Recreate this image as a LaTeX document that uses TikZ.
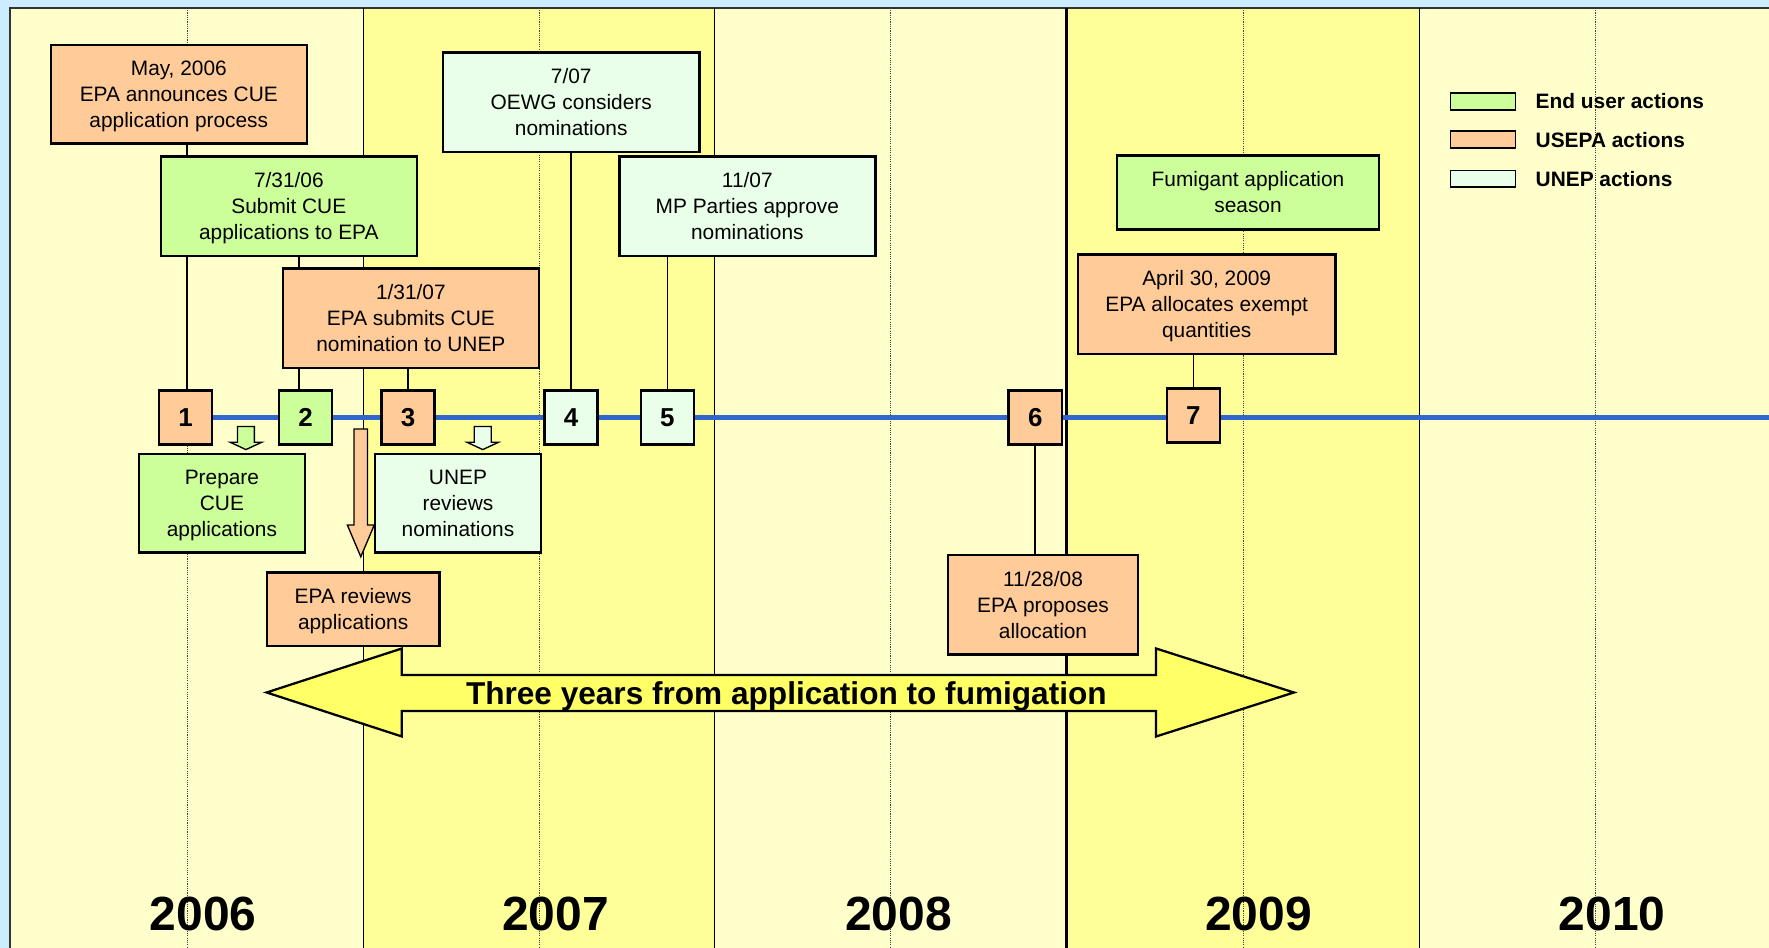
\documentclass[tikz,border=0pt]{standalone}
\usepackage{fontspec}
\setmainfont{Liberation Sans}
\usetikzlibrary{positioning}
\pgfdeclarelayer{background}
\pgfdeclarelayer{links}
\pgfsetlayers{background,links,main}
\definecolor{usepa}{HTML}{FFCC99}
\definecolor{enduser}{HTML}{CCFF99}
\definecolor{unep}{HTML}{EAFFEA}
\definecolor{paleyr}{HTML}{FFFFCC}
\definecolor{deepyr}{HTML}{FFFF99}
\definecolor{frameblue}{HTML}{CCECFF}
\definecolor{lineblue}{HTML}{3366CC}
\definecolor{banner}{HTML}{FFFF66}
\tikzset{
  evbox/.style={draw, line width=2.2pt, align=center, inner sep=0pt, text depth=0pt, font=\fontsize{18.5}{23}\selectfont},
  numbox/.style={draw, line width=2.2pt, minimum width=47pt, minimum height=48pt, inner sep=0pt, font=\fontsize{23}{23}\selectfont\bfseries},
  link/.style={line width=1.6pt},
  timeline/.style={line width=4.2pt, lineblue},
  yearlbl/.style={inner sep=0pt, font=\fontsize{42.5}{42.5}\selectfont\bfseries},
  legsw/.style={draw, line width=1.5pt, minimum width=57.5pt, minimum height=14.8pt, inner sep=0pt},
  legtxt/.style={inner sep=0pt, font=\fontsize{18.5}{20}\selectfont\bfseries},
  hollow/.style={draw, line width=1.2pt, line join=miter}
}
\newcommand{\smalldown}[2]{%
  \draw[hollow, fill=#2] (#1-7.5,378) -- (#1+7.5,378) -- (#1+7.5,392) -- (#1+14,392)
    -- (#1,398.5) -- (#1-14,392) -- (#1-7.5,392) -- cycle;}
\begin{document}
\begin{tikzpicture}[x=1pt,y=-1pt]
\useasboundingbox (0,0) rectangle (1568,840);
\begin{pgfonlayer}{background}
\fill[frameblue] (0,0) rectangle (1568,840);
\fill[paleyr] (9,7) rectangle (322,840);
\fill[deepyr] (322,7) rectangle (633,840);
\fill[paleyr] (633,7) rectangle (945,840);
\fill[deepyr] (945,7) rectangle (1258,840);
\fill[paleyr] (1258,7) rectangle (1568,840);
\draw[line width=1.5pt, black!80] (9,840) -- (9,7) -- (1568,7);
\foreach \x in {166,478,789,1102,1414}
  \draw[densely dotted, line width=1pt, black!75] (\x,7) -- (\x,840);
\foreach \x in {322,633,1258}
  \draw[line width=1.1pt] (\x,7) -- (\x,840);
\draw[line width=2.4pt] (945,7) -- (945,840);
\end{pgfonlayer}
% event boxes
\node[evbox, fill=usepa, minimum width=227pt, minimum height=87pt] (may) at (158.5,83.5) {May, 2006\\EPA announces CUE\\application process};
\node[evbox, fill=enduser, minimum width=227pt, minimum height=88pt] (submit) at (256,182.8) {7/31/06\\Submit CUE\\applications to EPA};
\node[evbox, fill=usepa, minimum width=227pt, minimum height=88pt] (nominate) at (364.2,282.1) {1/31/07\\EPA submits CUE\\nomination to UNEP};
\node[evbox, fill=unep, minimum width=227pt, minimum height=88pt] (oewg) at (506.3,90.5) {7/07\\OEWG considers\\nominations};
\node[evbox, fill=unep, minimum width=227pt, minimum height=88pt] (parties) at (662.4,182.8) {11/07\\MP Parties approve\\nominations};
\node[evbox, fill=enduser, minimum width=232pt, minimum height=65.6pt] (season) at (1106.2,170.5) {Fumigant application\\season};
\node[evbox, fill=usepa, minimum width=228pt, minimum height=88pt] (allocate) at (1069.6,269.7) {April 30, 2009\\EPA allocates exempt\\quantities};
\node[evbox, fill=usepa, minimum width=168pt, minimum height=88pt] (propose) at (924.5,536) {11/28/08\\EPA proposes\\allocation};
\node[evbox, fill=enduser, minimum width=147pt, minimum height=87.4pt] (prepare) at (196.7,445.9) {Prepare\\CUE\\applications};
\node[evbox, fill=unep, minimum width=147pt, minimum height=87.4pt] (unrev) at (405.9,445.9) {UNEP\\reviews\\nominations};
\node[evbox, fill=usepa, minimum width=152.7pt, minimum height=65pt] (eparev) at (313,539.9) {EPA reviews\\applications};
% numbered steps
\node[numbox, fill=usepa] (n1) at (164.6,370) {1};
\node[numbox, fill=enduser] (n2) at (270.9,370) {2};
\node[numbox, fill=usepa] (n3) at (361.7,370) {3};
\node[numbox, fill=unep] (n4) at (506.1,370) {4};
\node[numbox, fill=unep] (n5) at (591.6,370) {5};
\node[numbox, fill=usepa] (n6) at (917.6,370) {6};
\node[numbox, fill=usepa] (n7) at (1057.8,368.4) {7};
\coordinate (tlend) at (1568,370);
\begin{pgfonlayer}{links}
\draw[link] ([xshift=1.4pt]n1.north) -- ([xshift=1.4pt]n1.north |- may.south);
\draw[link] ([xshift=-6pt]n2.north) -- ([xshift=-6pt]n2.north |- submit.south);
\draw[link] (n3.north) -- (n3.north |- nominate.south);
\draw[link] (n4.north) -- (n4.north |- oewg.south);
\draw[link] (n5.north) -- (n5.north |- parties.south);
\draw[link] (n6.south) -- (n6.south |- propose.north);
\draw[link] (n7.north) -- (n7.north |- allocate.south);
\draw[timeline] (n1.east) -- (tlend);
\end{pgfonlayer}
\smalldown{218}{enduser}
\smalldown{427.9}{unep}
\draw[hollow, fill=usepa] (313.8,380.3) -- (325.7,380.3) -- (325.7,465.4) -- (331.7,465.4)
  -- (319.8,493.5) -- (307.9,465.4) -- (313.8,465.4) -- cycle;
\draw[line width=2pt, line join=miter, fill=banner] (236.3,613.8) -- (356.2,574.8) -- (356.2,598.4)
  -- (1024.7,598.4) -- (1024.7,574.8) -- (1146.9,613.8) -- (1024.7,652.8) -- (1024.7,630.3)
  -- (356.2,630.3) -- (356.2,652.8) -- cycle;
\node[inner sep=0pt, text depth=0pt, font=\fontsize{28}{28}\selectfont\bfseries] (span) at (697,614) {Three years from application to fumigation};
% years
\foreach \yr/\x in {2006/180,2007/492.5,2008/796.5,2009/1115.5,2010/1429}
  \node[yearlbl] (y\yr) at (\x,810.5) {\yr};
% legend
\node[legsw, fill=enduser] (legEnd) at (1314.5,89.8) {};
\node[legsw, fill=usepa] (legEpa) at (1314.5,123.8) {};
\node[legsw, fill=unep] (legUnep) at (1314.5,158.4) {};
\node[legtxt, right=17pt of legEnd] (txtEnd) {End user actions};
\node[legtxt, right=17pt of legEpa] (txtEpa) {USEPA actions};
\node[legtxt, right=17pt of legUnep] (txtUnep) {UNEP actions};
\end{tikzpicture}
\end{document}
